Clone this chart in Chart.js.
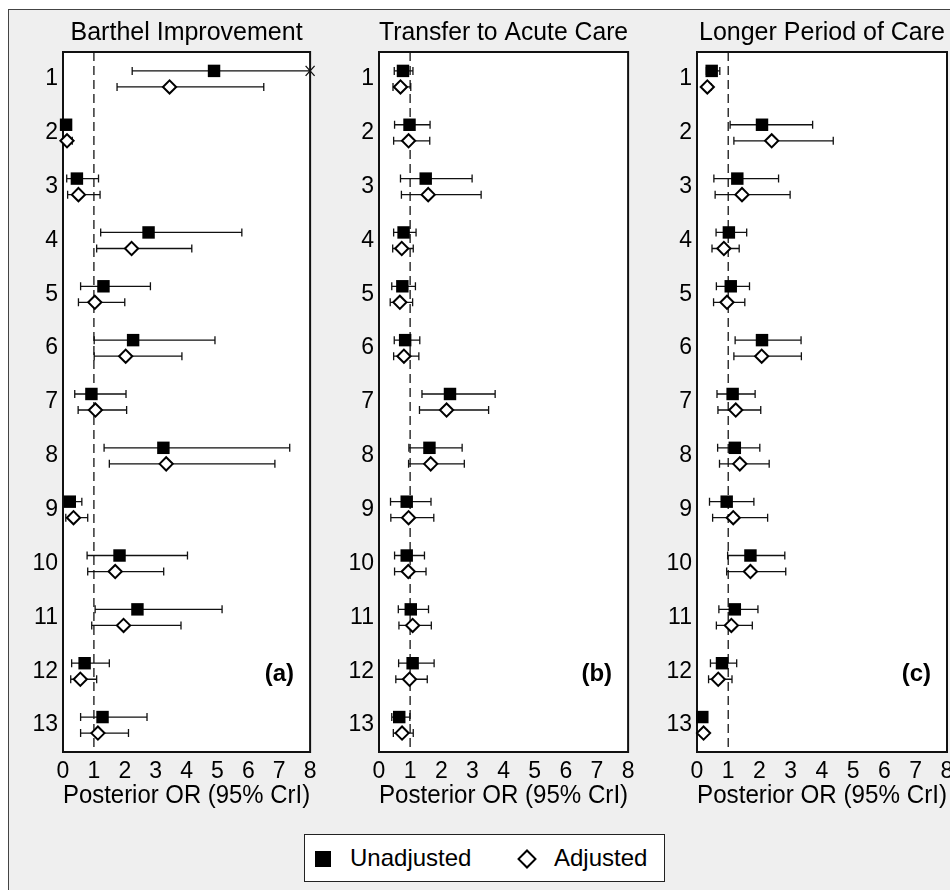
<!DOCTYPE html>
<html>
<head>
  <meta charset="utf-8">
  <title>Posterior OR by group</title>
  <script src="https://cdn.jsdelivr.net/npm/chart.js"></script>
  <style>
    body { margin: 0; background: #fff; font-family: "Liberation Sans", Arial, sans-serif; }
    #wrap { position: relative; width: 950px; height: 890px; overflow: hidden; }
    #frame { position: absolute; left: 8px; top: 9px; width: 1000px; height: 1000px;
      background: #efefef; border: 1.5px solid #444; }
    canvas { position: absolute; top: 0; }
    #legend { position: absolute; left: 304px; top: 834px; width: 359px; height: 46px;
      background: #fff; border: 1.5px solid #222; }
    #legend span { position: absolute; font-size: 24px; color: #000; top: 9px; }
    .sq { position: absolute; left: 10px; top: 16px; width: 16px; height: 16px; background: #000; }
    .dm { position: absolute; left: 215px; top: 17px; width: 10px; height: 10px; background: #fff;
      border: 2.5px solid #000; transform: rotate(45deg); }
  </style>
</head>
<body>
  <div id="wrap">
    <div id="frame"></div>
    <canvas id="panelA" width="322" height="830" style="left:0px"></canvas>
    <canvas id="panelB" width="318" height="830" style="left:322px"></canvas>
    <canvas id="panelC" width="330" height="830" style="left:640px"></canvas>
    <div id="legend">
      <div class="sq"></div><span style="left:45px">Unadjusted</span>
      <div class="dm"></div><span style="left:249px">Adjusted</span>
    </div>
  </div>

  <script>
    const rows = ['1','2','3','4','5','6','7','8','9','10','11','12','13'];
    const xTicks = [0,1,2,3,4,5,6,7,8];

    // Barthel Improvement
    const barthelUnadj   = [4.89, 0.10, 0.45, 2.77, 1.31, 2.27, 0.92, 3.25, 0.22, 1.83, 2.41, 0.70, 1.28];
    const barthelUnadjLo = [2.24, 0.02, 0.12, 1.22, 0.57, 1.01, 0.38, 1.33, 0.04, 0.78, 1.04, 0.28, 0.57];
    const barthelUnadjHi = [9.60, 0.22, 1.15, 5.79, 2.83, 4.92, 2.04, 7.34, 0.61, 4.03, 5.15, 1.50, 2.72];
    const barthelAdj     = [3.45, 0.13, 0.50, 2.22, 1.03, 2.03, 1.05, 3.34, 0.34, 1.69, 1.96, 0.56, 1.13];
    const barthelAdjLo   = [1.75, 0.03, 0.15, 1.09, 0.50, 1.01, 0.49, 1.50, 0.09, 0.80, 0.93, 0.25, 0.57];
    const barthelAdjHi   = [6.50, 0.30, 1.20, 4.17, 2.00, 3.85, 2.06, 6.86, 0.80, 3.26, 3.82, 1.09, 2.12];

    // Transfer to Acute Care
    const acuteUnadj   = [0.77, 0.98, 1.50, 0.79, 0.75, 0.84, 2.28, 1.62, 0.89, 0.89, 1.02, 1.08, 0.65];
    const acuteUnadjLo = [0.49, 0.50, 0.69, 0.47, 0.41, 0.49, 1.38, 0.96, 0.37, 0.50, 0.62, 0.63, 0.41];
    const acuteUnadjHi = [1.09, 1.64, 2.99, 1.19, 1.17, 1.31, 3.73, 2.67, 1.67, 1.46, 1.59, 1.77, 0.99];
    const acuteAdj     = [0.69, 0.95, 1.58, 0.73, 0.67, 0.80, 2.17, 1.66, 0.95, 0.94, 1.08, 0.98, 0.74];
    const acuteAdjLo   = [0.45, 0.47, 0.72, 0.44, 0.36, 0.47, 1.30, 0.95, 0.38, 0.50, 0.64, 0.54, 0.46];
    const acuteAdjHi   = [1.02, 1.63, 3.28, 1.10, 1.08, 1.28, 3.52, 2.74, 1.76, 1.51, 1.68, 1.55, 1.10];

    // Longer Period of Care
    const careUnadj   = [0.47, 2.08, 1.29, 1.02, 1.08, 2.08, 1.14, 1.21, 0.95, 1.71, 1.21, 0.80, 0.17];
    const careUnadjLo = [0.30, 1.06, 0.54, 0.61, 0.62, 1.22, 0.64, 0.66, 0.40, 0.98, 0.70, 0.43, 0.08];
    const careUnadjHi = [0.73, 3.70, 2.61, 1.59, 1.68, 3.33, 1.86, 2.01, 1.82, 2.81, 1.95, 1.27, 0.28];
    const careAdj     = [0.33, 2.39, 1.44, 0.86, 0.96, 2.07, 1.24, 1.37, 1.16, 1.71, 1.10, 0.68, 0.21];
    const careAdjLo   = [0.22, 1.18, 0.58, 0.48, 0.53, 1.18, 0.67, 0.72, 0.50, 0.95, 0.62, 0.37, 0.10];
    const careAdjHi   = [0.45, 4.36, 2.98, 1.35, 1.53, 3.34, 2.04, 2.31, 2.26, 2.84, 1.77, 1.12, 0.33];

    const rowOffset = 0.149;
    const ink = '#000';

    Chart.defaults.font.family = "'Liberation Sans', Arial, sans-serif";
    Chart.defaults.color = ink;

    // white plot box, dashed null line, CrI bars, frame and panel tag
    const forest = {
      id: 'forest',
      beforeDraw(chart) {
        const { ctx, chartArea: a } = chart;
        ctx.save();
        ctx.fillStyle = '#fff';
        ctx.fillRect(a.left, a.top, a.width, a.height);
        ctx.restore();
      },
      beforeDatasetsDraw(chart) {
        const { ctx, chartArea: a, scales: { x } } = chart;
        ctx.save();
        // dashed reference at OR = 1
        const x1 = x.getPixelForValue(1);
        ctx.strokeStyle = '#333';
        ctx.lineWidth = 1.5;
        ctx.setLineDash([9, 5]);
        ctx.beginPath(); ctx.moveTo(x1, a.top); ctx.lineTo(x1, a.bottom); ctx.stroke();
        ctx.setLineDash([]);

        ctx.strokeStyle = '#111';
        ctx.lineWidth = 1.3;
        chart.data.datasets.forEach((ds, di) => {
          const meta = chart.getDatasetMeta(di);
          meta.data.forEach((pt, i) => {
            const lo = Math.max(ds.lo[i], x.min);
            const clipped = ds.hi[i] > x.max;
            const xl = x.getPixelForValue(lo);
            const xh = x.getPixelForValue(Math.min(ds.hi[i], x.max));
            const y = pt.y;
            ctx.beginPath();
            ctx.moveTo(xl, y); ctx.lineTo(xh, y);
            ctx.moveTo(xl, y - 4); ctx.lineTo(xl, y + 4);
            if (clipped) {
              ctx.moveTo(xh - 4.5, y - 5); ctx.lineTo(xh + 4.5, y + 5);
              ctx.moveTo(xh - 4.5, y + 5); ctx.lineTo(xh + 4.5, y - 5);
            } else {
              ctx.moveTo(xh, y - 4); ctx.lineTo(xh, y + 4);
            }
            ctx.stroke();
          });
        });

        ctx.strokeStyle = '#111';
        ctx.lineWidth = 2;
        ctx.strokeRect(a.left, a.top, a.width, a.height);
        ctx.restore();
      },
      afterDraw(chart) {
        const { ctx, chartArea: a, scales: { y } } = chart;
        ctx.save();
        ctx.font = "bold 24px 'Liberation Sans', Arial, sans-serif";
        ctx.fillStyle = ink;
        ctx.textAlign = 'right';
        ctx.textBaseline = 'middle';
        ctx.fillText(chart.options.panelTag, a.right - 16, y.getPixelForValue(12) + 3);
        ctx.restore();
      }
    };

    function makePanel(canvasId, title, tag, unadj, unadjLo, unadjHi, adj, adjLo, adjHi, axisWidth, padRight) {
      return new Chart(document.getElementById(canvasId), {
        type: 'scatter',
        data: {
          datasets: [
            {
              label: 'Unadjusted',
              data: unadj.map((v, i) => ({ x: v, y: i + 1 - rowOffset })),
              lo: unadjLo, hi: unadjHi,
              pointStyle: 'rect', pointRadius: 8.8, pointHoverRadius: 8.8,
              backgroundColor: '#000', borderColor: '#000', borderWidth: 0,
              clip: false
            },
            {
              label: 'Adjusted',
              data: adj.map((v, i) => ({ x: v, y: i + 1 + rowOffset })),
              lo: adjLo, hi: adjHi,
              pointStyle: 'rectRot', pointRadius: 6.6, pointHoverRadius: 6.6,
              backgroundColor: '#fff', borderColor: '#000', borderWidth: 2,
              clip: false
            }
          ]
        },
        options: {
          panelTag: tag,
          responsive: false,
          animation: false,
          layout: { padding: { left: 0, right: padRight, top: 0, bottom: 0 } },
          plugins: {
            legend: { display: false },
            tooltip: { enabled: false },
            title: {
              display: true, text: title, fullSize: false, color: ink,
              font: { size: 25, weight: 'normal' },
              padding: { top: 18.5, bottom: 3.5 }
            }
          },
          scales: {
            x: {
              type: 'linear', min: 0, max: 8,
              grid: { display: false, drawTicks: false },
              border: { display: false },
              afterBuildTicks: ax => { ax.ticks = xTicks.map(v => ({ value: v })); },
              ticks: { padding: 5.5, font: { size: 23 }, color: ink },
              title: {
                display: true, text: 'Posterior OR (95% CrI)', color: ink,
                font: { size: 25 }, padding: { top: 0, bottom: 19 }
              },
              afterFit: ax => { ax.height = 78; }
            },
            y: {
              type: 'linear', reverse: true, min: 0.5, max: 13.5,
              grid: { display: false, drawTicks: false },
              border: { display: false },
              afterBuildTicks: ax => { ax.ticks = rows.map((r, i) => ({ value: i + 1 })); },
              ticks: { padding: 5, font: { size: 23 }, color: ink, callback: v => rows[v - 1] },
              afterFit: ax => { ax.width = axisWidth; }
            }
          }
        },
        plugins: [forest]
      });
    }

    makePanel('panelA', 'Barthel Improvement', '(a)',
      barthelUnadj, barthelUnadjLo, barthelUnadjHi, barthelAdj, barthelAdjLo, barthelAdjHi, 63, 10);
    makePanel('panelB', 'Transfer to Acute Care', '(b)',
      acuteUnadj, acuteUnadjLo, acuteUnadjHi, acuteAdj, acuteAdjLo, acuteAdjHi, 57, 10);
    makePanel('panelC', 'Longer Period of Care', '(c)',
      careUnadj, careUnadjLo, careUnadjHi, careAdj, careAdjLo, careAdjHi, 57, 23);
  </script>
</body>
</html>
